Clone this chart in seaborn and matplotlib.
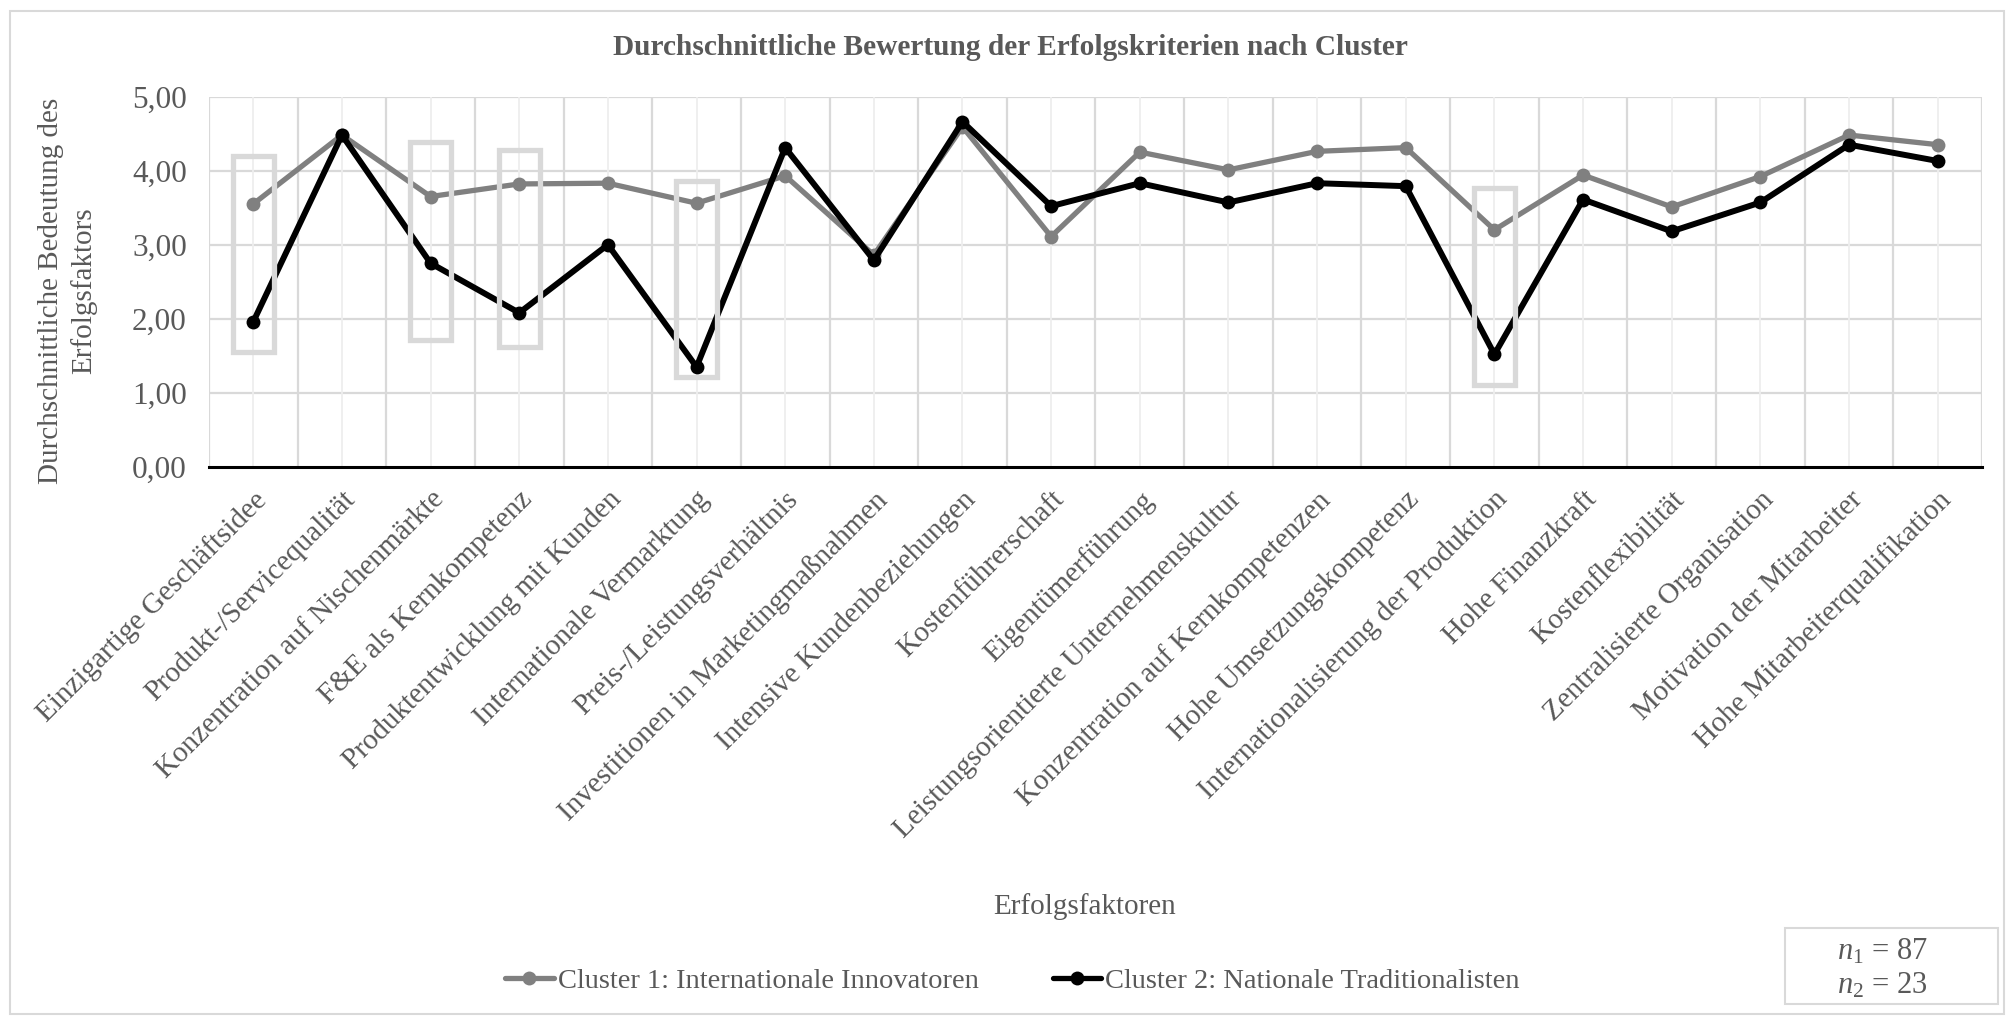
import numpy as np
import pandas as pd
import matplotlib
matplotlib.use("Agg")
import matplotlib.pyplot as plt
from matplotlib.patches import Rectangle
import seaborn as sns

categories = [
    "Einzigartige Geschäftsidee", "Produkt-/Servicequalität",
    "Konzentration auf Nischenmärkte", "F&E als Kernkompetenz",
    "Produktentwicklung mit Kunden", "Internationale Vermarktung",
    "Preis-/Leistungsverhältnis", "Investitionen in Marketingmaßnahmen",
    "Intensive Kundenbeziehungen", "Kostenführerschaft", "Eigentümerführung",
    "Leistungsorientierte Unternehmenskultur",
    "Konzentration auf Kernkompetenzen", "Hohe Umsetzungskompetenz",
    "Internationalisierung der Produktion", "Hohe Finanzkraft",
    "Kostenflexibilität", "Zentralisierte Organisation",
    "Motivation der Mitarbeiter", "Hohe Mitarbeiterqualifikation",
]
cluster1 = [3.55, 4.48, 3.65, 3.82, 3.83, 3.56, 3.93, 2.86, 4.59, 3.11,
            4.25, 4.01, 4.26, 4.31, 3.20, 3.94, 3.51, 3.92, 4.48, 4.35]
cluster2 = [1.96, 4.48, 2.75, 2.08, 3.00, 1.35, 4.31, 2.79, 4.66, 3.52,
            3.83, 3.57, 3.83, 3.79, 1.52, 3.61, 3.18, 3.57, 4.35, 4.13]
series_names = ["Cluster 1: Internationale Innovatoren",
                "Cluster 2: Nationale Traditionalisten"]
# highlighted categories (index, lower, upper)
highlight_idx = [0, 2, 3, 5, 14]
highlight_low = [1.55, 1.72, 1.62, 1.22, 1.10]
highlight_high = [4.20, 4.38, 4.28, 3.86, 3.77]
n_labels = ["$n_1$ = 87", "$n_2$ = 23"]

df = pd.DataFrame({
    "Erfolgsfaktor": categories * 2,
    "Wert": cluster1 + cluster2,
    "Cluster": [series_names[0]] * len(categories) + [series_names[1]] * len(categories),
})

sns.set_theme(style="white")
plt.rcParams["font.family"] = ["Liberation Serif", "DejaVu Serif"]
plt.rcParams["mathtext.fontset"] = "custom"
plt.rcParams["mathtext.rm"] = "Liberation Serif"
plt.rcParams["mathtext.it"] = "Liberation Serif:italic"

TXT = "#595959"
GRID = "#d9d9d9"

fig = plt.figure(figsize=(20.13, 10.16), dpi=100)
ax = fig.add_axes([0.1038, 0.5404, 0.8808, 0.3646])

sns.lineplot(data=df, x="Erfolgsfaktor", y="Wert", hue="Cluster",
             palette=["#808080", "#000000"], sort=False, marker="o",
             markersize=10, markeredgewidth=0, linewidth=3.8, ax=ax,
             legend=True, zorder=5)
# black line slightly heavier
ax.lines[1].set_linewidth(4.3)

n = len(categories)
ax.set_xlim(-0.5, n - 0.5)
ax.set_ylim(0, 5)
ax.set_yticks(np.arange(0, 6, 1))
ax.set_yticklabels([f"{v:.2f}".replace(".", ",") for v in range(6)],
                   fontsize=22.5, color=TXT)
ax.set_xticks(range(n))
ax.set_xticklabels(categories, rotation=45, ha="right", rotation_mode="anchor",
                   fontsize=21, color=TXT)
ax.tick_params(axis="y", length=0, pad=16)
ax.tick_params(axis="x", length=0, pad=14)

# gridlines
for y in range(1, 6):
    ax.axhline(y, color=GRID, lw=1.6, zorder=0)
for b in np.arange(-0.5, n + 0.5, 1):
    ax.axvline(b, color=GRID, lw=1.6, zorder=0)
for c in range(n):
    ax.axvline(c, color="#eeeeee", lw=1.3, zorder=0)

for s in ["top", "right", "left"]:
    ax.spines[s].set_visible(False)
ax.spines["bottom"].set_color("black")
ax.spines["bottom"].set_linewidth(2.2)
ax.spines["bottom"].set_zorder(6)

# highlight boxes (drawn over the lines)
for i, lo, hi in zip(highlight_idx, highlight_low, highlight_high):
    ax.add_patch(Rectangle((i - 0.23, lo), 0.46, hi - lo, fill=False,
                           edgecolor=GRID, lw=3.8, zorder=7))

ax.set_xlabel("")
ax.set_ylabel("Durchschnittliche Bedeutung des\nErfolgsfaktors",
              fontsize=21, color=TXT, linespacing=1.3)
ax.yaxis.set_label_coords(-0.063, 0.475)

handles, labels = ax.get_legend_handles_labels()
ax.get_legend().remove()
leg = fig.legend(handles, labels, loc="center", bbox_to_anchor=(0.503, 0.034),
                 ncol=2, frameon=False, fontsize=20.5, handlelength=1.7,
                 handletextpad=0.15, columnspacing=2.6)
for t in leg.get_texts():
    t.set_color(TXT)

fig.text(0.502, 0.953, "Durchschnittliche Bewertung der Erfolgskriterien nach Cluster",
         ha="center", va="center", fontsize=21.2, fontweight="bold", color=TXT)
fig.text(0.539, 0.108, "Erfolgsfaktoren", ha="center", va="center",
         fontsize=21, color=TXT)

# sample size box
fig.patches.append(Rectangle((1785 / 2013, 1 - 1004 / 1016), 213 / 2013, 76 / 1016,
                             transform=fig.transFigure, fill=False,
                             edgecolor=GRID, lw=1.5))
fig.text(1882 / 2013, 1 - 952 / 1016, n_labels[0], ha="center", va="center",
         fontsize=22, color=TXT)
fig.text(1882 / 2013, 1 - 986 / 1016, n_labels[1], ha="center", va="center",
         fontsize=22, color=TXT)

# outer frame
fig.patches.append(Rectangle((10 / 2013, 2 / 1016), 1994 / 2013, 1003 / 1016,
                             transform=fig.transFigure, fill=False,
                             edgecolor=GRID, lw=1.5))

fig.savefig("out.png", dpi=100, facecolor="white")
